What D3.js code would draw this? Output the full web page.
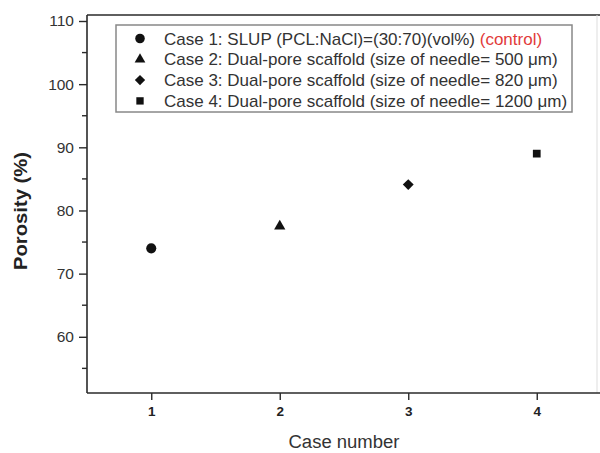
<!DOCTYPE html>
<html>
<head>
<meta charset="utf-8">
<script src="https://cdn.jsdelivr.net/npm/d3@7"></script>
<style>
  body { margin: 0; background: #fff; }
  text { font-family: "Liberation Sans", Arial, sans-serif; }
</style>
</head>
<body>
<div id="vis"></div>
<script>
// datos
const cases = [1, 2, 3, 4];
const porosity = [74, 77.5, 84.1, 89];
const symbols = ["circle", "triangle", "diamond", "square"];
const legendLabels = [
  "Case 1: SLUP (PCL:NaCl)=(30:70)(vol%) ",
  "Case 2: Dual-pore scaffold (size of needle= 500 \u03bcm)",
  "Case 3: Dual-pore scaffold (size of needle= 820 \u03bcm)",
  "Case 4: Dual-pore scaffold (size of needle= 1200 \u03bcm)"
];
const yTicks = [60, 70, 80, 90, 100, 110];
const yMinor = [55, 65, 75, 85, 95, 105];

const WIDTH = 600;
const HEIGHT = 453;
const margins = [87, 0, 15, 60]; // izquierda, derecha, arriba, abajo

const SVG = d3.select("#vis").append("svg").attr("width", WIDTH).attr("height", HEIGHT);

const x = d3.scaleLinear().domain([0.5, 4.5]).range([margins[0], 601]);
const y = d3.scaleLinear().domain([51.1, 110.95]).range([HEIGHT - margins[3], margins[2]]);

const axisColor = "#2a2a2a";
const bottom = HEIGHT - margins[3];

// marco (el lado derecho queda casi cortado)
SVG.append("line").attr("x1", margins[0]).attr("x2", 600).attr("y1", margins[2]).attr("y2", margins[2])
  .attr("stroke", axisColor).attr("stroke-width", 1.6);
SVG.append("line").attr("x1", 597).attr("x2", 597).attr("y1", margins[2]).attr("y2", bottom)
  .attr("stroke", "#ddd").attr("stroke-width", 1);

// eje Y
const ejeY = SVG.append("g").attr("transform", `translate(${margins[0]},0)`)
  .call(d3.axisLeft(y).tickValues(yTicks).tickSize(8).tickPadding(5).tickSizeOuter(0));
ejeY.select(".domain").remove();
ejeY.selectAll("line").attr("stroke", axisColor).attr("stroke-width", 1.4);
ejeY.selectAll("text").attr("font-size", 15.5).attr("fill", "#333")
  .style("font-family", "Liberation Sans, Arial, sans-serif");
SVG.append("g").selectAll("line").data(yMinor).join("line")
  .attr("x1", margins[0] - 5).attr("x2", margins[0])
  .attr("y1", d => y(d)).attr("y2", d => y(d))
  .attr("stroke", axisColor).attr("stroke-width", 1.4);
SVG.append("line").attr("x1", margins[0]).attr("x2", margins[0]).attr("y1", margins[2]).attr("y2", bottom)
  .attr("stroke", axisColor).attr("stroke-width", 1.6);

// eje X
const ejeX = SVG.append("g").attr("transform", `translate(0,${bottom})`)
  .call(d3.axisBottom(x).tickValues(cases).tickFormat(d3.format("d")).tickSize(7).tickPadding(6).tickSizeOuter(0));
ejeX.select(".domain").remove();
ejeX.selectAll("line").attr("stroke", axisColor).attr("stroke-width", 1.4);
ejeX.selectAll("text").attr("font-size", 13.5).attr("font-weight", "bold").attr("fill", "#222")
  .style("font-family", "Liberation Sans, Arial, sans-serif");
SVG.append("line").attr("x1", margins[0]).attr("x2", 600).attr("y1", bottom).attr("y2", bottom)
  .attr("stroke", axisColor).attr("stroke-width", 1.6);

// titulos
SVG.append("text")
  .attr("transform", "translate(27,211) rotate(-90)")
  .attr("text-anchor", "middle").attr("font-size", 19).attr("font-weight", "bold").attr("fill", "#222")
  .attr("textLength", 118).attr("lengthAdjust", "spacingAndGlyphs")
  .text("Porosity (%)");
SVG.append("text")
  .attr("x", (margins[0] + 601) / 2).attr("y", 448)
  .attr("text-anchor", "middle").attr("font-size", 18).attr("fill", "#333")
  .attr("textLength", 111).attr("lengthAdjust", "spacingAndGlyphs")
  .text("Case number");

// simbolos
const symType = {
  circle: d3.symbolCircle, triangle: d3.symbolTriangle,
  diamond: d3.symbolDiamond2, square: d3.symbolSquare
};
const symSize = { circle: 80, triangle: 55, diamond: 75, square: 60 };

SVG.append("g").selectAll("path").data(cases).join("path")
  .attr("transform", (d, i) => `translate(${x(d)},${y(porosity[i])})`)
  .attr("d", (d, i) => d3.symbol(symType[symbols[i]], symSize[symbols[i]])())
  .attr("fill", "#111");

// leyenda
const leg = SVG.append("g");
leg.append("rect").attr("x", 116).attr("y", 25).attr("width", 456).attr("height", 87)
  .attr("fill", "#fff").attr("stroke", "#888").attr("stroke-width", 1.5);
const rows = leg.selectAll("g").data(legendLabels).join("g")
  .attr("transform", (d, i) => `translate(0,${38.5 + i * 20.8})`);
rows.append("path")
  .attr("transform", "translate(140,0)")
  .attr("d", (d, i) => d3.symbol(symType[symbols[i]], symSize[symbols[i]] * 0.9)())
  .attr("fill", "#111");
const lt = rows.append("text").attr("x", 164).attr("y", 6)
  .attr("font-size", 17).attr("fill", "#333");
lt.append("tspan").text(d => d);
lt.filter((d, i) => i === 0).append("tspan").attr("fill", "#e23a3a").text("(control)");
</script>
</body>
</html>
